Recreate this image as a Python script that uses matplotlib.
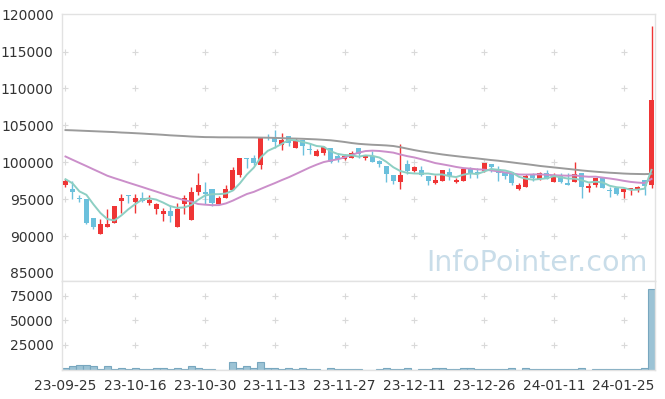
import matplotlib
matplotlib.use('Agg')
import matplotlib.pyplot as plt
import numpy as np
import pandas as pd

# Daily candles, 23-09-25 .. 24-01-31 (85 trading days)
opens = [96940, 96400, 95140, 95080, 92500, 90250, 91280, 91830, 94770, 95540,
         94630, 95180, 94460, 93640, 92970, 93410, 91280, 94400, 92150, 95900,
         95900, 96400, 94400, 95140, 96260, 98300, 100640, 100640, 99650, 103450,
         103360, 102370, 103590, 101920, 103040, 101860, 100780, 101240, 101920, 100870,
         100430, 100560, 101920, 100510, 100870, 100200, 99520, 98300, 97310, 99790,
         98880, 98970, 98200, 97170, 97520, 98740, 97390, 97520, 99210, 98700,
         98880, 99790, 99070, 98610, 98660, 96360, 96710, 98340, 97750, 98530,
         97390, 98300, 97210, 97390, 98530, 96570, 96850, 97930, 96260, 96490,
         95900, 96260, 96400, 97580, 96940]
highs = [97710, 97480, 95580, 95080, 92500, 92290, 93680, 94090, 95720, 95600,
         95720, 96030, 95540, 94450, 93780, 94230, 94460, 95580, 96710, 98530,
         97390, 96400, 95450, 96850, 99420, 100640, 100640, 101010, 103360, 103820,
         104400, 103950, 103590, 103270, 103040, 102600, 101780, 102230, 101920, 101320,
         101100, 101590, 101920, 101010, 101460, 100330, 99520, 98300, 102500, 100330,
         99520, 99520, 98200, 98300, 98970, 99210, 97850, 99210, 99420, 99210,
         99960, 99790, 99520, 98610, 98660, 97170, 98430, 98530, 98660, 98970,
         98530, 98530, 98610, 100020, 98530, 97170, 97850, 97930, 96710, 96710,
         96570, 96570, 96800, 97580, 118510]
lows = [96710, 95000, 94670, 91650, 90930, 90250, 91200, 91830, 93100, 94460,
        93180, 94670, 94230, 92970, 92060, 91880, 91280, 93010, 92150, 95580,
        94320, 94130, 94320, 95140, 96260, 98030, 99210, 99560, 99110, 103040,
        102000, 101690, 102140, 101920, 101010, 101100, 100780, 101010, 99880, 100100,
        100330, 100560, 100560, 100240, 100020, 99420, 97310, 97030, 96360, 98430,
        98740, 98070, 96940, 97080, 97520, 97620, 97170, 97520, 97850, 97850,
        98740, 98740, 97520, 97710, 96940, 96260, 96710, 97520, 97620, 97750,
        97390, 97250, 96980, 97390, 95140, 95950, 96710, 96480, 95350, 95580,
        95140, 95580, 95950, 95580, 96530]
closes = [97480, 95900, 95000, 91830, 91280, 91650, 91690, 94090, 95220, 95450,
          95180, 94810, 94900, 94360, 93410, 92780, 93680, 95140, 95950, 96940,
          95760, 94540, 95180, 96400, 98970, 100640, 100500, 99880, 103360, 103360,
          102810, 103040, 102600, 103040, 102270, 101650, 101460, 102090, 100020, 100430,
          100870, 101320, 101150, 100870, 100100, 99750, 98390, 97480, 98300, 98880,
          99340, 98300, 97520, 97620, 98970, 98200, 97660, 99070, 98530, 98530,
          99880, 99420, 98530, 98070, 97250, 96850, 98160, 97850, 98530, 97750,
          98300, 97390, 96980, 98430, 96710, 96800, 97850, 96570, 96130, 95720,
          96400, 96490, 96670, 96800, 108470]
volumes = [1400, 3100, 4100, 4100, 3100, 600, 3100, 400, 1400, 400,
           1400, 400, 400, 1400, 1400, 400, 1400, 400, 3100, 1400,
           400, 400, 0, 0, 7200, 1400, 3100, 1400, 7200, 1400,
           2000, 400, 1400, 400, 1400, 400, 400, 0, 1400, 400,
           400, 400, 400, 0, 0, 400, 1400, 400, 400, 1400,
           0, 400, 400, 1400, 2000, 400, 400, 1400, 1400, 400,
           400, 400, 400, 400, 1400, 0, 1400, 400, 400, 400,
           400, 400, 400, 400, 1400, 0, 400, 400, 400, 400,
           400, 400, 400, 1400, 82000]

ma5_head = [97700, 97150, 96050, 95580]
ma20_head = [100780, 100340, 99910, 99480, 99040, 98610, 98170, 97850, 97550, 97240,
             96940, 96640, 96330, 96030, 95720, 95410, 95140, 94860, 94660]
ma_long = [104360, 104330, 104290, 104250, 104210, 104170, 104130, 104090, 104030, 103990,
           103940, 103890, 103830, 103780, 103720, 103650, 103600, 103550, 103490, 103450,
           103410, 103400, 103380, 103380, 103370, 103370, 103360, 103360, 103340, 103330,
           103300, 103270, 103230, 103210, 103180, 103140, 103100, 103040, 102980, 102870,
           102750, 102610, 102500, 102430, 102370, 102330, 102280, 102200, 102040, 101840,
           101650, 101480, 101340, 101200, 101060, 100940, 100830, 100720, 100620, 100520,
           100410, 100300, 100210, 100100, 99980, 99860, 99750, 99630, 99500, 99400,
           99300, 99200, 99100, 99000, 98890, 98800, 98720, 98650, 98580, 98530,
           98470, 98430, 98410, 98390, 98430]

date_ticks = [0, 10, 20, 30, 40, 50, 60, 70, 80]
date_labels = ['23-09-25', '23-10-16', '23-10-30', '23-11-13', '23-11-27',
               '23-12-11', '23-12-26', '24-01-11', '24-01-25']
price_ticks = [85000, 90000, 95000, 100000, 105000, 110000, 115000, 120000]
volume_ticks = [25000, 50000, 75000]

UP = '#ef3535'
DOWN = '#6bc0dc'
GRID = '#d9d9d9'
FRAME = '#e2e2e2'

x = np.arange(len(closes))
o = np.array(opens)
c = np.array(closes)

ma5 = pd.Series(closes).rolling(5).mean().to_numpy()
ma5[:4] = ma5_head
ma20 = pd.Series(closes).rolling(20).mean().to_numpy()
ma20[:19] = ma20_head

fig = plt.figure(figsize=(6.65, 3.99), dpi=100)
W, H = 665, 399
ax = fig.add_axes([62 / W, 1 - 281 / H, 593 / W, 267 / H])
axv = fig.add_axes([62 / W, 1 - 369.5 / H, 593 / W, 88.5 / H], sharex=ax)

# watermark
fig.text(648 / W, 1 - 271 / H, 'InfoPointer.com', ha='right', va='baseline',
         fontsize=20.5, color='#c9dde9', family='DejaVu Sans')

# grid crosses at tick intersections
for a, yt in ((ax, price_ticks[1:-1]), (axv, volume_ticks)):
    gx, gy = np.meshgrid(date_ticks, yt)
    a.plot(gx.ravel(), gy.ravel(), ls='none', marker='+', ms=5, mew=0.8,
           color=GRID, zorder=0)

# candles
colors = [UP if cl >= op else DOWN for op, cl in zip(o, c)]
ax.vlines(x, lows, highs, colors=colors, lw=1, zorder=2)
bottoms = np.minimum(o, c)
heights = np.maximum(np.abs(c - o), 60)
ax.bar(x, heights, bottom=bottoms, width=0.72, color=colors, edgecolor='none', zorder=3)

# moving averages
ax.plot(x, ma_long, color='#9b9b9b', lw=1.4, zorder=4)
ax.plot(x, ma20, color='#cb8fca', lw=1.4, zorder=4)
ax.plot(x, ma5, color='#8dcfc3', lw=1.4, zorder=4)

# volume
axv.bar(x, volumes, width=1.0, color='#9cc3d5', edgecolor='#78a7bf', lw=0.8, zorder=2)

ax.set_ylim(83900, 120100)
ax.set_yticks(price_ticks)
ax.set_yticklabels([str(v) for v in price_ticks])
axv.set_ylim(0, 90000)
axv.set_yticks(volume_ticks)
axv.set_yticklabels([str(v) for v in volume_ticks])
axv.set_xlim(-0.5, 84.5)
axv.set_xticks(date_ticks)
axv.set_xticklabels(date_labels)
ax.tick_params(axis='x', labelbottom=False, length=0)

for a in (ax, axv):
    a.set_facecolor('white')
    a.tick_params(axis='y', length=0, pad=6, labelsize=10, colors='#333333')
    for s in a.spines.values():
        s.set_color(FRAME)
        s.set_linewidth(1)
axv.tick_params(axis='x', length=0, pad=7, labelsize=10, colors='#333333')

fig.savefig('out.png', dpi=100, facecolor='white')
